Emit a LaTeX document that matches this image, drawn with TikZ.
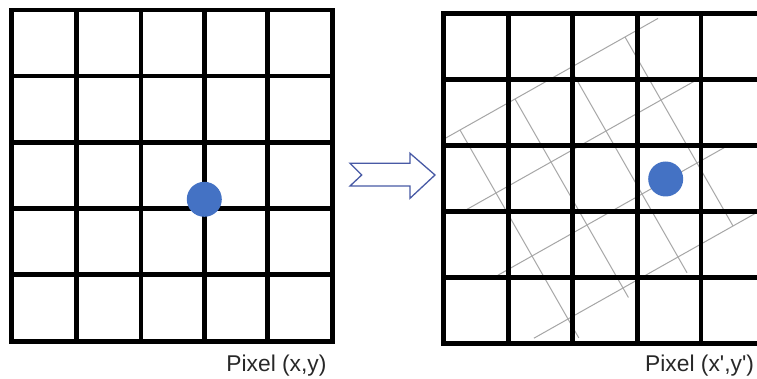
\documentclass[tikz,border=0pt]{standalone}
\usepackage{fontspec}
\setmainfont{Liberation Sans}
\definecolor{dotblue}{RGB}{68,114,196}
\definecolor{arrowblue}{RGB}{72,90,165}
\definecolor{lblgray}{RGB}{40,40,40}
\begin{document}
\begin{tikzpicture}[x=1pt,y=-1pt,
  gridline/.style={line width=4.7pt, black, line cap=rect},
  rotline/.style={line width=1pt, black!35},
  pixdot/.style={circle, fill=dotblue, minimum size=35pt, inner sep=0pt},
  pixlabel/.style={font=\fontsize{22.8}{27}\selectfont, text=lblgray, inner sep=0pt},
  shiftarrow/.style={draw=arrowblue, line width=1.3pt, line join=miter}]
\useasboundingbox (0,0) rectangle (757,379);
\clip (0,0) rectangle (757,379);
\fill[white] (0,0) rectangle (757,379);

% ---------- left grid ----------
\foreach \x in {11.7,76.7,141,204.3,267.7,332.3}
  \draw[gridline] (\x,10) -- (\x,341.7);
\foreach \y in {10,76,142.3,208.3,274.3,341.7}
  \draw[gridline] (11.7,\y) -- (332.3,\y);
\node[pixdot] (dotA) at (204.3,199.3) {};
\node[pixlabel, anchor=base east] (labA) at (326.7,371) {Pixel (x,y)};

% ---------- arrow ----------
\draw[shiftarrow] (350,163.3) -- (410,163.3) -- (410,153.3) -- (435,175)
  -- (410,198.3) -- (410,186) -- (350,186) -- (361.7,175) -- cycle;

% ---------- right grid: rotated grey grid ----------
\begin{scope}
  \clip (443.3,13.3) rectangle (765,343.3);
  \foreach \b in {0,1,2,3}
    \draw[rotline] ({460-55*0.62+36*\b},{130+31*0.62+63*\b})
      -- ({460+55*3.6+36*\b},{130-31*3.6+63*\b});
  \foreach \a/\e in {0/3.3,1/3.15,2/3.25,3/3}
    \draw[rotline] ({460+55*\a},{130-31*\a})
      -- ({460+55*\a+36*\e},{130-31*\a+63*\e});
\end{scope}

% ---------- right grid: black ----------
\foreach \x in {443.3,508.3,572.7,637.3,701,765}
  \draw[gridline] (\x,13.3) -- (\x,343.3);
\foreach \y in {13.3,79.3,145.7,211.7,277.3,343.3}
  \draw[gridline] (443.3,\y) -- (765,\y);
\node[pixdot] (dotB) at (665.7,179) {};
\node[pixlabel, anchor=base west] (labB) at (645,371) {Pixel (x\textquotesingle,y\textquotesingle)};
\end{tikzpicture}
\end{document}
